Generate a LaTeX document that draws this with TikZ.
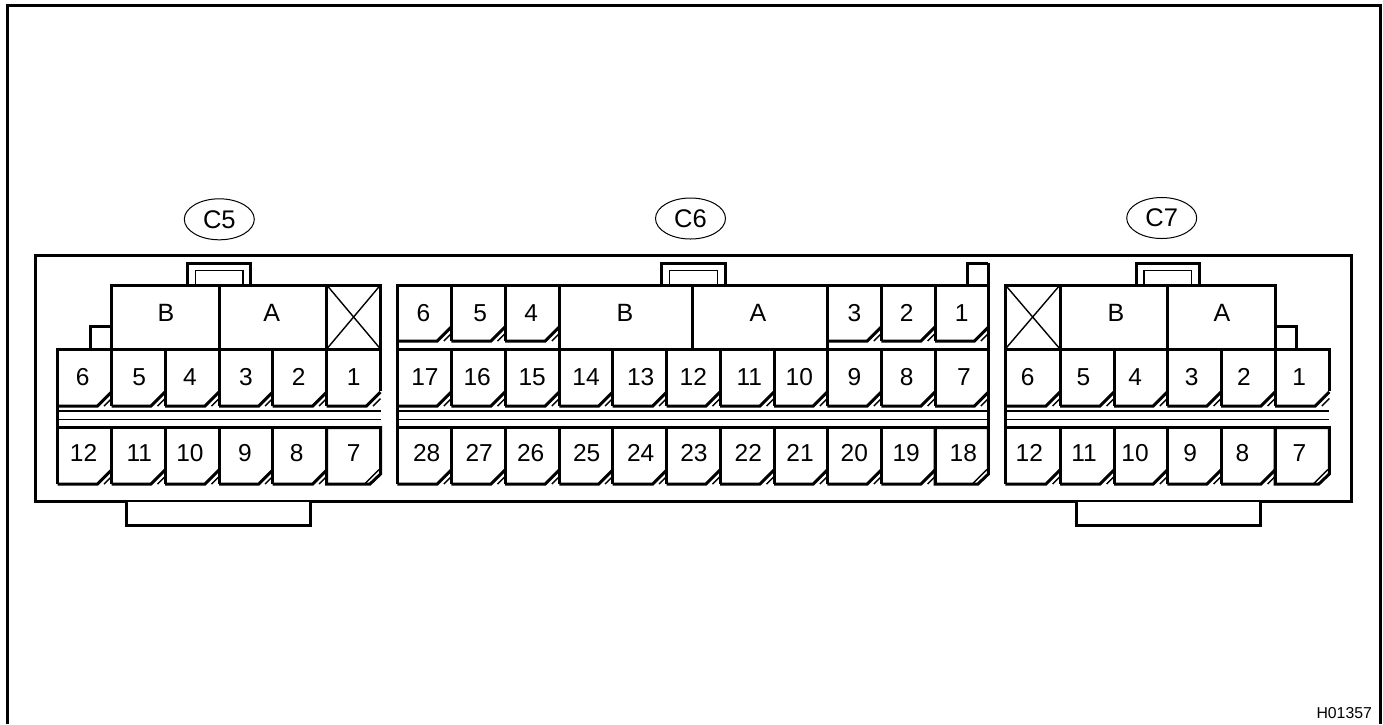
\documentclass[tikz,border=0pt]{standalone}
\usepackage{fontspec}
\setmainfont{Liberation Sans}
\usetikzlibrary{shapes.geometric}
\tikzset{
  thk/.style={line width=3pt,line cap=butt,line join=miter,draw=black},
  thn/.style={line width=1.4pt,draw=black},
  dthn/.style={line width=1.4pt,draw=black},
  lab/.style={font=\fontsize{24.5}{26}\selectfont,inner sep=0pt,text=black,anchor=base},
  big/.style={font=\fontsize{25}{27}\selectfont,inner sep=0pt,text=black,anchor=base},
  tagell/.style={ellipse,draw=black,line width=1pt,minimum width=70pt,minimum height=41pt,inner sep=0pt,font=\fontsize{25.5}{27}\selectfont}
}
\newcommand{\pinlabel}[6]{%
  \node[lab] (#6) at ({(#1+#2)/2+(#5)},{#3+(#3>400?33.5:36)}) {#4};
}
% left right top bottom label x-offset name
\newcommand{\pcell}[7]{%
  \draw[thk] (#1,#4) -- (#1,#3) -- (#2,#3) -- (#2,#4);
  \draw[thk] (#1,#4) -- (#2-14,#4) -- (#2,#4-14);
  \draw[dthn] (#2-7.5,#4) -- (#2,#4-7.5);
  \pinlabel{#1}{#2}{#3}{#5}{#6}{#7}
}
% outer cell whose right side stops at the corner cut (upper row)
\newcommand{\opencell}[7]{%
  \draw[thk] (#1,#4) -- (#1,#3) -- (#2,#3) -- (#2,#4-14.6);
  \draw[thk] (#1,#4) -- (#2-14,#4) -- (#2,#4-14);
  \draw[dthn] (#2-7.5,#4) -- (#2,#4-7.5);
  \pinlabel{#1}{#2}{#3}{#5}{#6}{#7}
}
% last cell, with the outer corner cut (lower row)
\newcommand{\cutcell}[7]{%
  \draw[thk] (#1,#4) -- (#1,#3) -- (#2,#3) -- (#2,#4-10) -- (#2-10.5,#4) -- cycle;
  \draw[dthn] (#2-16,#4) -- (#2-1.5,#4-14.5);
  \pinlabel{#1}{#2}{#3}{#5}{#6}{#7}
}
\newcommand{\stripband}[2]{%
  \draw[thn] (#1,411) -- (#2,411);
  \draw[thn] (#1,419.5) -- (#2,419.5);
  \draw[thk] (#1,427.5) -- (#2,427.5);
}
\newcommand{\latchtab}[1]{%
  \draw[thk] (#1,285) -- (#1,263) -- (#1+63.4,263) -- (#1+63.4,285);
  \draw[thn] (#1+8,285) -- (#1+8,270.2) -- (#1+55.5,270.2) -- (#1+55.5,285);
}
\begin{document}
\begin{tikzpicture}[x=1pt,y=-1pt]
\useasboundingbox (0,0) rectangle (1383,724);
\coordinate (bl) at (7,724);
\coordinate (tl) at (7,5);
\coordinate (tr) at (1380,5);
\coordinate (br) at (1380,724);
\draw[thk] (bl) -- (tl) -- (tr) -- (br);
% housing
\draw[thk] (35.5,255) rectangle (1351,501);
\draw[thk] (126,501) -- (126,525.5) -- (310.7,525.5) -- (310.7,501);
\draw[thk] (1076,501) -- (1076,525.5) -- (1260,525.5) -- (1260,501);
\draw[line width=1pt,white] (127.5,502) -- (309,502);
\draw[line width=1pt,white] (1077.5,502) -- (1258.5,502);
% tags
\node[tagell] (c5) at (219.3,219.3) {C5};
\node[tagell] (c6) at (690.5,218.5) {C6};
\node[tagell] (c7) at (1161.7,218) {C7};
\node[font=\fontsize{15.8}{17}\selectfont,inner sep=0pt] (code) at (1344.2,713.5) {H01357};
% ---- C5
\latchtab{187.3}
\draw[thk] (90,349) -- (90,326.7) -- (111.5,326.7);
\draw[thk] (111.5,349) -- (111.5,285) -- (380.5,285) -- (380.5,349) -- cycle;
\draw[thk] (219,285) -- (219,349);
\draw[thk] (326.7,285) -- (326.7,349);
\draw[thn] (326.7,285) -- (380.5,349);
\draw[thn] (380.5,285) -- (326.7,349);
\node[big] (c5B) at (166,321.5) {B};
\node[big] (c5A) at (271.7,321.5) {A};
\pcell{57.7}{111.5}{349}{406}{6}{-2}{c5a}
\pcell{111.5}{165}{349}{406}{5}{1}{c5b}
\pcell{165}{219}{349}{406}{4}{-2}{c5c}
\pcell{219}{272.7}{349}{406}{3}{0}{c5d}
\pcell{272.7}{326.7}{349}{406}{2}{-1}{c5e}
\opencell{326.7}{380.5}{349}{406}{1}{0}{c5f}
\stripband{57.7}{380.5}
\draw[thk] (57.7,406) -- (57.7,427.5);
\pcell{57.7}{111.5}{427.5}{484}{12}{-1}{c5g}
\pcell{111.5}{165}{427.5}{484}{11}{1}{c5h}
\pcell{165}{219}{427.5}{484}{10}{-2}{c5i}
\pcell{219}{272.7}{427.5}{484}{9}{-1}{c5j}
\pcell{272.7}{326.7}{427.5}{484}{8}{-3}{c5k}
\cutcell{326.7}{380.5}{427.5}{484}{7}{0}{c5l}
% ---- C6
\latchtab{661.7}
\draw[thk] (967.3,285) -- (967.3,263) -- (988.4,263);
\draw[thk] (397.4,285) -- (988.4,285);
\draw[thk] (397.4,284) -- (397.4,349);
\pcell{397.4}{451.3}{285}{341}{6}{-1}{c6a}
\pcell{451.3}{505}{285}{341}{5}{2}{c6b}
\pcell{505}{559.3}{285}{341}{4}{-1}{c6c}
\draw[thk] (559.3,285) rectangle (692.7,349);
\draw[thk] (692.7,285) rectangle (827.3,349);
\node[big] (c6B) at (625,321.5) {B};
\node[big] (c6A) at (758,321.5) {A};
\pcell{827.3}{881.3}{285}{341}{3}{0}{c6d}
\pcell{881.3}{935}{285}{341}{2}{-1.5}{c6e}
\pcell{935}{988.4}{285}{341}{1}{0}{c6f}
\draw[thk] (397.4,349) -- (988.4,349);
\foreach \l/\r/\t/\o/\n in {397.4/451.3/17/0.6/a,451.3/505/16/-1/b,505/559.3/15/0/c,559.3/612.7/14/0/d,612.7/666.7/13/1/e,666.7/720/12/0/f,720/774/11/2.3/g,774/827.3/10/-1.3/h,827.3/881.3/9/0/i,881.3/935/8/-1.5/j,935/988.4/7/2.3/k}{
  \pcell{\l}{\r}{349}{406}{\t}{\o}{c6r\n}
}
\stripband{397.4}{988.4}
\draw[thk] (397.4,406) -- (397.4,427.5);
\draw[thk] (988.4,263) -- (988.4,473.5);
\foreach \l/\r/\t/\o/\n in {397.4/451.3/28/2.3/a,451.3/505/27/1/b,505/559.3/26/-1.5/c,559.3/612.7/25/0.7/d,612.7/666.7/24/1/e,666.7/720/23/0.6/f,720/774/22/1.3/g,774/827.3/21/-0.6/h,827.3/881.3/20/0/i,881.3/935/19/-2/j}{
  \pcell{\l}{\r}{427.5}{484}{\t}{\o}{c6s\n}
}
\cutcell{935}{988.4}{427.5}{484}{18}{1.6}{c6t}
% ---- C7
\latchtab{1136}
\draw[thk] (1275,326.7) -- (1296.7,326.7) -- (1296.7,349);
\draw[thk] (1005.3,285) rectangle (1275,349);
\draw[thk] (1060,285) -- (1060,349);
\draw[thk] (1167.3,285) -- (1167.3,349);
\draw[thn] (1005.3,285) -- (1060,349);
\draw[thn] (1060,285) -- (1005.3,349);
\node[big] (c7B) at (1116,321.5) {B};
\node[big] (c7A) at (1222,321.5) {A};
\pcell{1005.3}{1060}{349}{406}{6}{-5}{c7a}
\pcell{1060}{1114}{349}{406}{5}{-3.7}{c7b}
\pcell{1114}{1167.3}{349}{406}{4}{-5.6}{c7c}
\pcell{1167.3}{1221}{349}{406}{3}{-2.5}{c7d}
\pcell{1221}{1275}{349}{406}{2}{-4}{c7e}
\opencell{1275}{1329.3}{349}{406}{1}{-3}{c7f}
\stripband{1005.3}{1329.3}
\draw[thk] (1005.3,406) -- (1005.3,427.5);
\pcell{1005.3}{1060}{427.5}{484}{12}{-3.3}{c7g}
\pcell{1060}{1114}{427.5}{484}{11}{-3}{c7h}
\pcell{1114}{1167.3}{427.5}{484}{10}{-5.6}{c7i}
\pcell{1167.3}{1221}{427.5}{484}{9}{-4}{c7j}
\pcell{1221}{1275}{427.5}{484}{8}{-5.7}{c7k}
\cutcell{1275}{1329.3}{427.5}{484}{7}{-2.8}{c7l}
\end{tikzpicture}
\end{document}
